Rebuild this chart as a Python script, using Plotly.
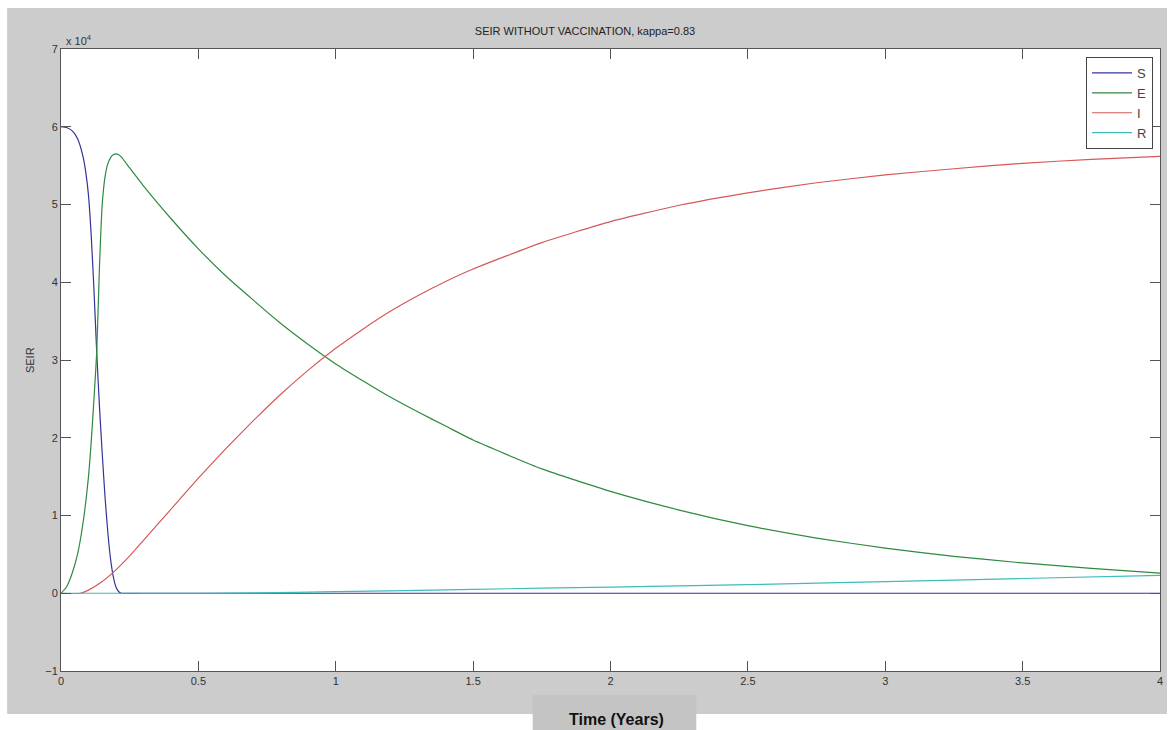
import plotly.graph_objects as go

# ---- data (values in units of 10^4) ----
S_t = [0, 0.02, 0.04, 0.06, 0.08, 0.09, 0.10, 0.11, 0.12, 0.13, 0.14, 0.15, 0.16, 0.17, 0.18, 0.19, 0.20,
       0.21, 0.22, 0.3, 1.0, 4.0]
S_v = [6.0, 5.99, 5.95, 5.85, 5.62, 5.42, 5.12, 4.6, 3.9, 3.1, 2.4, 1.8, 1.25, 0.8, 0.45, 0.22, 0.08,
       0.02, 0.0, 0.0, 0.0, 0.0]

E_t = [0, 0.02, 0.04, 0.06, 0.08, 0.10, 0.11, 0.12, 0.13, 0.14, 0.15, 0.16, 0.17, 0.18, 0.19, 0.20, 0.21,
       0.22, 0.25, 0.3, 0.4, 0.5, 0.6, 0.7, 0.8, 0.9, 1.0, 1.1, 1.2, 1.3, 1.4, 1.5, 1.75, 2.0, 2.25, 2.5,
       2.75, 3.0, 3.25, 3.5, 3.75, 4.0]
E_v = [0, 0.08, 0.25, 0.5, 0.9, 1.5, 1.95, 2.5, 3.1, 4.2, 5.0, 5.35, 5.52, 5.6, 5.64, 5.65, 5.64,
       5.61, 5.47, 5.24, 4.82, 4.43, 4.08, 3.77, 3.47, 3.2, 2.95, 2.73, 2.52, 2.33, 2.15, 1.97, 1.6, 1.31,
       1.07, 0.87, 0.71, 0.58, 0.475, 0.39, 0.32, 0.26]

I_t = [0, 0.07, 0.1, 0.15, 0.2, 0.25, 0.3, 0.4, 0.5, 0.6, 0.7, 0.8, 0.9, 1.0, 1.1, 1.2, 1.3, 1.4, 1.5,
       1.75, 2.0, 2.25, 2.5, 2.75, 3.0, 3.25, 3.5, 3.75, 4.0]
I_v = [0, 0, 0.04, 0.15, 0.30, 0.48, 0.68, 1.08, 1.48, 1.86, 2.22, 2.56, 2.87, 3.15, 3.40, 3.63, 3.83,
       4.01, 4.17, 4.51, 4.78, 4.99, 5.15, 5.28, 5.38, 5.46, 5.53, 5.58, 5.62]

R_t = [0, 0.5, 0.7, 1.0, 1.5, 2.0, 2.5, 3.0, 3.5, 4.0]
R_v = [0, 0, 0.005, 0.02, 0.05, 0.08, 0.11, 0.15, 0.19, 0.23]

series = [("S", S_t, S_v, "#34349a"), ("E", E_t, E_v, "#2f8a3f"),
          ("I", I_t, I_v, "#d65858"), ("R", R_t, R_v, "#3dbcbc")]

y_ticks = [-1, 0, 1, 2, 3, 4, 5, 6, 7]
x_ticks = [0, 0.5, 1, 1.5, 2, 2.5, 3, 3.5, 4]
x_labels = ["0", "0.5", "1", "1.5", "2", "2.5", "3", "3.5", "4"]

W, H = 1170, 730
L, R, T, B = 61, 7, 49, 59
pw, ph = W - L - R, H - T - B

def px(x):
    return (x - L) / pw

def py(y):
    return (H - B - y) / ph

fig = go.Figure()
for name, t, v, c in series:
    fig.add_trace(go.Scatter(x=t, y=v, mode="lines", name=name,
                             line=dict(color=c, width=1.2, shape="spline", smoothing=0.5)))

font = "Liberation Sans, Arial, sans-serif"
fig.update_layout(
    width=W, height=H,
    margin=dict(l=L, r=R, t=T, b=B),
    paper_bgcolor="white", plot_bgcolor="white",
    font=dict(family=font, size=11, color="#333"),
    title=dict(text="SEIR WITHOUT VACCINATION, kappa=0.83", x=px(612), xanchor="center",
               y=1 - 31 / H, yanchor="middle", font=dict(size=11, color="#222")),
    showlegend=True,
    legend=dict(x=px(1156), xanchor="right", y=py(57), yanchor="top",
                bgcolor="white", bordercolor="#444", borderwidth=1,
                font=dict(size=13, color="#444"), itemwidth=40, tracegroupgap=0),
    shapes=[
        dict(type="rect", xref="paper", yref="paper", x0=px(7), x1=px(1170),
             y0=py(714), y1=py(8), fillcolor="#cccccc", line=dict(width=0), layer="below"),
        dict(type="rect", xref="paper", yref="paper", x0=px(534), x1=px(698),
             y0=py(730), y1=py(695), fillcolor="#c4c4c4", line=dict(width=0), layer="below"),
        dict(type="rect", xref="paper", yref="paper", x0=0, x1=1, y0=0, y1=1,
             fillcolor="white", line=dict(width=0), layer="below"),
    ],
    annotations=[
        dict(text="<b>Time (Years)</b>", xref="paper", yref="paper", x=px(618), y=py(719),
             xanchor="center", yanchor="middle", showarrow=False,
             font=dict(size=16, color="#111", family=font)),
        dict(text="SEIR", xref="paper", yref="paper", x=px(30), y=py(360), textangle=-90,
             xanchor="center", yanchor="middle", showarrow=False, font=dict(size=11, color="#333")),
        dict(text="x 10<sup>4</sup>", xref="paper", yref="paper", x=px(64), y=py(40),
             xanchor="left", yanchor="middle", showarrow=False, font=dict(size=11, color="#333")),
    ],
)
fig.update_xaxes(range=[0, 4], tickvals=x_ticks, ticktext=x_labels, ticks="inside", ticklen=10,
                 tickcolor="#555", showline=True, linecolor="#555", linewidth=1, mirror="ticks",
                 showgrid=False, zeroline=False, tickfont=dict(size=11, color="#333"))
fig.update_yaxes(range=[-1, 7], tickvals=y_ticks, ticks="inside", ticklen=10,
                 tickcolor="#555", showline=True, linecolor="#555", linewidth=1, mirror="ticks",
                 showgrid=False, zeroline=False, tickfont=dict(size=11, color="#333"))

fig.write_html("out.html", config={"displayModeBar": False},
               post_script="document.body.style.margin='0';")
